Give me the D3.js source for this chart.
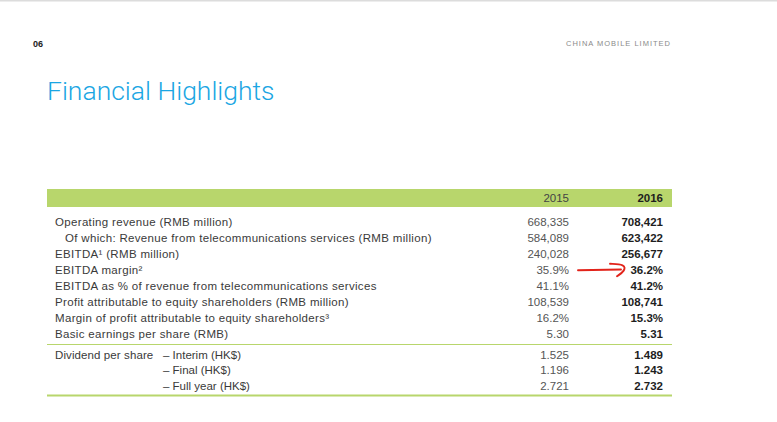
<!DOCTYPE html>
<html>
<head>
<meta charset="utf-8">
<script src="https://cdn.jsdelivr.net/npm/d3@7"></script>
<style>
  body { margin: 0; background: #fff; }
  svg { display: block; }
</style>
</head>
<body>
<svg id="page" width="777" height="422"></svg>
<script>
const years = ['2015', '2016'];
const mainLabels = [
    'Operating revenue (RMB million)',
    'Of which: Revenue from telecommunications services (RMB million)',
    'EBITDA\u00B9 (RMB million)',
    'EBITDA margin\u00B2',
    'EBITDA as % of revenue from telecommunications services',
    'Profit attributable to equity shareholders (RMB million)',
    'Margin of profit attributable to equity shareholders\u00B3',
    'Basic earnings per share (RMB)'
];
const mainIndent = [0, 1, 0, 0, 0, 0, 0, 0];
const main2015 = ['668,335', '584,089', '240,028', '35.9%', '41.1%', '108,539', '16.2%', '5.30'];
const main2016 = ['708,421', '623,422', '256,677', '36.2%', '41.2%', '108,741', '15.3%', '5.31'];
const dividendLabels = ['\u2013 Interim (HK$)', '\u2013 Final (HK$)', '\u2013 Full year (HK$)'];
const dividend2015 = ['1.525', '1.196', '2.721'];
const dividend2016 = ['1.489', '1.243', '2.732'];
const highlightRow = 3;

const green = '#b8d66c';
const textColor = '#3a3a3a';
const fontFamily = '"Liberation Sans", Arial, sans-serif';

const svg = d3.select('#page');

// page chrome
svg.append('rect').attr('x', 0).attr('y', 0).attr('width', 777).attr('height', 1.5).attr('fill', '#dcdcdc');

svg.append('text')
    .attr('x', 33).attr('y', 47)
    .attr('font-family', fontFamily).attr('font-weight', 'bold')
    .attr('font-size', 9).attr('fill', '#222')
    .text('06');

svg.append('text')
    .attr('x', 671).attr('y', 46)
    .attr('text-anchor', 'end')
    .attr('font-family', fontFamily).attr('font-size', 7.5)
    .attr('letter-spacing', 1).attr('fill', '#8a8a8a')
    .text('CHINA MOBILE LIMITED');

svg.append('text')
    .attr('x', 47).attr('y', 100)
    .attr('font-family', 'Roboto, sans-serif').attr('font-weight', 300)
    .attr('font-size', 26.5).attr('fill', '#1ba6e3')
    .text('Financial Highlights');

// table scales
const tableLeft = 47, tableRight = 672;
const colX = d3.scaleOrdinal().domain(years).range([569, 663]);
const rowY = d3.scaleLinear().domain([0, 1]).range([221.5, 237.6]);
const dividendY = d3.scaleLinear().domain([0, 1]).range([354.5, 370.3]);

const table = svg.append('g')
    .attr('font-family', fontFamily)
    .attr('font-size', 11.5);

// header bar
table.append('rect')
    .attr('x', tableLeft).attr('y', 189)
    .attr('width', tableRight - tableLeft).attr('height', 18)
    .attr('fill', green);

table.selectAll('text.year')
    .data(years)
    .join('text')
    .attr('class', 'year')
    .attr('x', d => colX(d))
    .attr('y', 202)
    .attr('text-anchor', 'end')
    .attr('font-weight', (d, i) => i === 1 ? 'bold' : 'normal')
    .attr('fill', (d, i) => i === 1 ? '#1e1e1e' : '#444')
    .text(d => d);

const mainRows = mainLabels.map((label, i) => ({
    label, indent: mainIndent[i], v2015: main2015[i], v2016: main2016[i], y: rowY(i)
}));
const dividendRows = dividendLabels.map((label, i) => ({
    label, v2015: dividend2015[i], v2016: dividend2016[i], y: dividendY(i)
}));

const drawValues = (rows, cls) => {
    table.selectAll(`text.${cls}-a`)
        .data(rows)
        .join('text')
        .attr('class', `${cls}-a`)
        .attr('x', colX('2015'))
        .attr('y', d => d.y + 4)
        .attr('text-anchor', 'end')
        .attr('fill', '#555')
        .text(d => d.v2015);

    table.selectAll(`text.${cls}-b`)
        .data(rows)
        .join('text')
        .attr('class', `${cls}-b`)
        .attr('x', colX('2016'))
        .attr('y', d => d.y + 4)
        .attr('text-anchor', 'end')
        .attr('font-weight', 'bold')
        .attr('fill', '#1e1e1e')
        .text(d => d.v2016);
};

table.selectAll('text.main-label')
    .data(mainRows)
    .join('text')
    .attr('class', 'main-label')
    .attr('x', d => 55 + d.indent * 10)
    .attr('y', d => d.y + 4)
    .attr('letter-spacing', 0.33)
    .attr('fill', textColor)
    .text(d => d.label);

drawValues(mainRows, 'main');

// separator between sections
table.append('line')
    .attr('x1', tableLeft).attr('x2', tableRight)
    .attr('y1', 344.5).attr('y2', 344.5)
    .attr('stroke', green).attr('stroke-width', 1.2);

table.append('text')
    .attr('x', 55).attr('y', dividendY(0) + 4)
    .attr('letter-spacing', 0.1)
    .attr('fill', textColor)
    .text('Dividend per share');

table.selectAll('text.div-label')
    .data(dividendRows)
    .join('text')
    .attr('class', 'div-label')
    .attr('x', 163)
    .attr('y', d => d.y + 4)
    .attr('fill', textColor)
    .text(d => d.label);

drawValues(dividendRows, 'div');

table.append('line')
    .attr('x1', tableLeft).attr('x2', tableRight)
    .attr('y1', 395.5).attr('y2', 395.5)
    .attr('stroke', green).attr('stroke-width', 2);

// red hand-drawn arrow on the EBITDA margin row
const ay = rowY(highlightRow);
const arrow = svg.append('g')
    .attr('fill', 'none')
    .attr('stroke', '#e2231a')
    .attr('stroke-width', 1.9)
    .attr('stroke-linecap', 'round');

arrow.append('path')
    .attr('d', d3.line()([[578, ay + 0.5], [621, ay - 0.3]]));

arrow.append('path')
    .attr('d', d3.line().curve(d3.curveBasis)([
        [610, ay - 6], [625, ay - 5.5], [625, ay + 1], [617, ay + 6.5]
    ]));
</script>
</body>
</html>
